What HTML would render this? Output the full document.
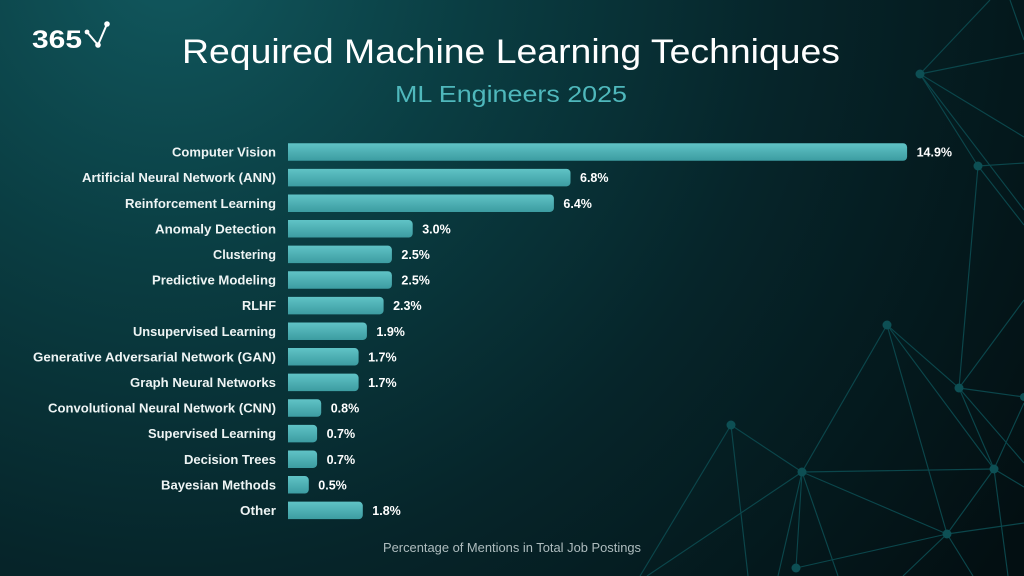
<!DOCTYPE html>
<html>
<head>
<meta charset="utf-8">
<style>
html,body{margin:0;padding:0;background:#041518;}
svg{display:block;}
text{font-family:"Liberation Sans",sans-serif;}
</style>
</head>
<body>
<svg width="1024" height="576" viewBox="0 0 1024 576" xmlns="http://www.w3.org/2000/svg">
<defs>
<radialGradient id="bg" cx="170" cy="-40" r="1020" gradientUnits="userSpaceOnUse">
<stop offset="0" stop-color="#11585e"/>
<stop offset="0.3" stop-color="#0a3d42"/>
<stop offset="0.6" stop-color="#06252a"/>
<stop offset="1" stop-color="#030f12"/>
</radialGradient>
<linearGradient id="bar" x1="0" y1="0" x2="0" y2="1">
<stop offset="0" stop-color="#60c3c6"/>
<stop offset="1" stop-color="#3c9ca1"/>
</linearGradient>
</defs>
<rect width="1024" height="576" fill="url(#bg)"/>

<!-- network decoration -->
<g stroke="#0b464b" stroke-width="1.15" fill="none">
<line x1="920" y1="74" x2="990" y2="0"/>
<line x1="920" y1="74" x2="1024" y2="53"/>
<line x1="920" y1="74" x2="1024" y2="137"/>
<line x1="920" y1="74" x2="978" y2="166"/>
<line x1="920" y1="74" x2="1024" y2="210"/>
<line x1="1010" y1="0" x2="1024" y2="40"/>
<line x1="978" y1="166" x2="1024" y2="163"/>
<line x1="978" y1="166" x2="959" y2="388"/>
<line x1="978" y1="166" x2="1024" y2="225"/>
<line x1="959" y1="388" x2="1024" y2="300"/>
<line x1="887" y1="325" x2="802" y2="472"/>
<line x1="887" y1="325" x2="959" y2="388"/>
<line x1="887" y1="325" x2="994" y2="469"/>
<line x1="887" y1="325" x2="947" y2="534"/>
<line x1="959" y1="388" x2="1024" y2="397"/>
<line x1="959" y1="388" x2="994" y2="469"/>
<line x1="959" y1="388" x2="1024" y2="463"/>
<line x1="1024" y1="403" x2="994" y2="469"/>
<line x1="731" y1="425" x2="640" y2="576"/>
<line x1="731" y1="425" x2="802" y2="472"/>
<line x1="731" y1="425" x2="748" y2="576"/>
<line x1="802" y1="472" x2="994" y2="469"/>
<line x1="802" y1="472" x2="947" y2="534"/>
<line x1="802" y1="472" x2="796" y2="568"/>
<line x1="802" y1="472" x2="647" y2="576"/>
<line x1="802" y1="472" x2="778" y2="576"/>
<line x1="802" y1="472" x2="838" y2="576"/>
<line x1="796" y1="568" x2="947" y2="534"/>
<line x1="947" y1="534" x2="1024" y2="523"/>
<line x1="947" y1="534" x2="903" y2="576"/>
<line x1="947" y1="534" x2="973" y2="576"/>
<line x1="947" y1="534" x2="994" y2="469"/>
<line x1="994" y1="469" x2="1024" y2="487"/>
<line x1="994" y1="469" x2="1008" y2="576"/>
</g>
<g fill="#0d4f54">
<circle cx="920" cy="74" r="4.5"/>
<circle cx="978" cy="166" r="4.5"/>
<circle cx="887" cy="325" r="4.5"/>
<circle cx="959" cy="388" r="4.5"/>
<circle cx="731" cy="425" r="4.5"/>
<circle cx="802" cy="472" r="4.5"/>
<circle cx="994" cy="469" r="4.5"/>
<circle cx="947" cy="534" r="4.5"/>
<circle cx="796" cy="568" r="4.5"/>
<circle cx="1024" cy="397" r="4"/>
</g>

<!-- logo -->
<text x="32" y="48" font-size="25" font-weight="bold" fill="#ffffff" textLength="50" lengthAdjust="spacingAndGlyphs">365</text>
<g stroke="#ffffff" stroke-width="2" fill="none">
<polyline points="87,32 98,45 107,24"/>
</g>
<g fill="#ffffff">
<circle cx="87" cy="32" r="2.4"/>
<circle cx="98" cy="45" r="2.8"/>
<circle cx="107" cy="24" r="2.8"/>
</g>

<!-- titles -->
<text x="182" y="63" font-size="34" fill="#ffffff" textLength="658" lengthAdjust="spacingAndGlyphs">Required Machine Learning Techniques</text>
<text x="395" y="102" font-size="23.5" fill="#4fb8bc" textLength="232" lengthAdjust="spacingAndGlyphs">ML Engineers 2025</text>

<!-- bars -->
<g fill="url(#bar)">
<path d="M288 143.25h615.1a4 4 0 0 1 4 4v9.5a4 4 0 0 1-4 4H288z"/>
<path d="M288 168.85h278.5a4 4 0 0 1 4 4v9.5a4 4 0 0 1-4 4H288z"/>
<path d="M288 194.45h261.9a4 4 0 0 1 4 4v9.5a4 4 0 0 1-4 4H288z"/>
<path d="M288 220.05h120.7a4 4 0 0 1 4 4v9.5a4 4 0 0 1-4 4H288z"/>
<path d="M288 245.65h99.9a4 4 0 0 1 4 4v9.5a4 4 0 0 1-4 4H288z"/>
<path d="M288 271.25h99.9a4 4 0 0 1 4 4v9.5a4 4 0 0 1-4 4H288z"/>
<path d="M288 296.85h91.6a4 4 0 0 1 4 4v9.5a4 4 0 0 1-4 4H288z"/>
<path d="M288 322.45h74.9a4 4 0 0 1 4 4v9.5a4 4 0 0 1-4 4H288z"/>
<path d="M288 348.05h66.6a4 4 0 0 1 4 4v9.5a4 4 0 0 1-4 4H288z"/>
<path d="M288 373.65h66.6a4 4 0 0 1 4 4v9.5a4 4 0 0 1-4 4H288z"/>
<path d="M288 399.25h29.2a4 4 0 0 1 4 4v9.5a4 4 0 0 1-4 4H288z"/>
<path d="M288 424.85h25.1a4 4 0 0 1 4 4v9.5a4 4 0 0 1-4 4H288z"/>
<path d="M288 450.45h25.1a4 4 0 0 1 4 4v9.5a4 4 0 0 1-4 4H288z"/>
<path d="M288 476.05h16.8a4 4 0 0 1 4 4v9.5a4 4 0 0 1-4 4H288z"/>
<path d="M288 501.65h70.8a4 4 0 0 1 4 4v9.5a4 4 0 0 1-4 4H288z"/>
</g>

<!-- category labels -->
<g font-size="13" font-weight="bold" fill="#eef4f4" text-anchor="end">
<text x="276" y="156.6" textLength="104" lengthAdjust="spacingAndGlyphs">Computer Vision</text>
<text x="276" y="182.2" textLength="194" lengthAdjust="spacingAndGlyphs">Artificial Neural Network (ANN)</text>
<text x="276" y="207.8" textLength="151" lengthAdjust="spacingAndGlyphs">Reinforcement Learning</text>
<text x="276" y="233.4" textLength="121" lengthAdjust="spacingAndGlyphs">Anomaly Detection</text>
<text x="276" y="259" textLength="63" lengthAdjust="spacingAndGlyphs">Clustering</text>
<text x="276" y="284.6" textLength="124" lengthAdjust="spacingAndGlyphs">Predictive Modeling</text>
<text x="276" y="310.2" textLength="34" lengthAdjust="spacingAndGlyphs">RLHF</text>
<text x="276" y="335.8" textLength="143" lengthAdjust="spacingAndGlyphs">Unsupervised Learning</text>
<text x="276" y="361.4" textLength="243" lengthAdjust="spacingAndGlyphs">Generative Adversarial Network (GAN)</text>
<text x="276" y="387" textLength="146" lengthAdjust="spacingAndGlyphs">Graph Neural Networks</text>
<text x="276" y="412.6" textLength="228" lengthAdjust="spacingAndGlyphs">Convolutional Neural Network (CNN)</text>
<text x="276" y="438.2" textLength="128" lengthAdjust="spacingAndGlyphs">Supervised Learning</text>
<text x="276" y="463.8" textLength="92" lengthAdjust="spacingAndGlyphs">Decision Trees</text>
<text x="276" y="489.4" textLength="115" lengthAdjust="spacingAndGlyphs">Bayesian Methods</text>
<text x="276" y="515" textLength="36" lengthAdjust="spacingAndGlyphs">Other</text>
</g>

<!-- value labels -->
<g font-size="12.5" font-weight="bold" fill="#ffffff">
<text x="916.6" y="156.6">14.9%</text>
<text x="580" y="182.2">6.8%</text>
<text x="563.4" y="207.8">6.4%</text>
<text x="422.2" y="233.4">3.0%</text>
<text x="401.4" y="259">2.5%</text>
<text x="401.4" y="284.6">2.5%</text>
<text x="393.1" y="310.2">2.3%</text>
<text x="376.4" y="335.8">1.9%</text>
<text x="368.1" y="361.4">1.7%</text>
<text x="368.1" y="387">1.7%</text>
<text x="330.7" y="412.6">0.8%</text>
<text x="326.6" y="438.2">0.7%</text>
<text x="326.6" y="463.8">0.7%</text>
<text x="318.3" y="489.4">0.5%</text>
<text x="372.3" y="515">1.8%</text>
</g>

<!-- footer -->
<text x="383" y="552" font-size="12.5" fill="#aebcbe" textLength="258" lengthAdjust="spacingAndGlyphs">Percentage of Mentions in Total Job Postings</text>
</svg>
</body>
</html>
